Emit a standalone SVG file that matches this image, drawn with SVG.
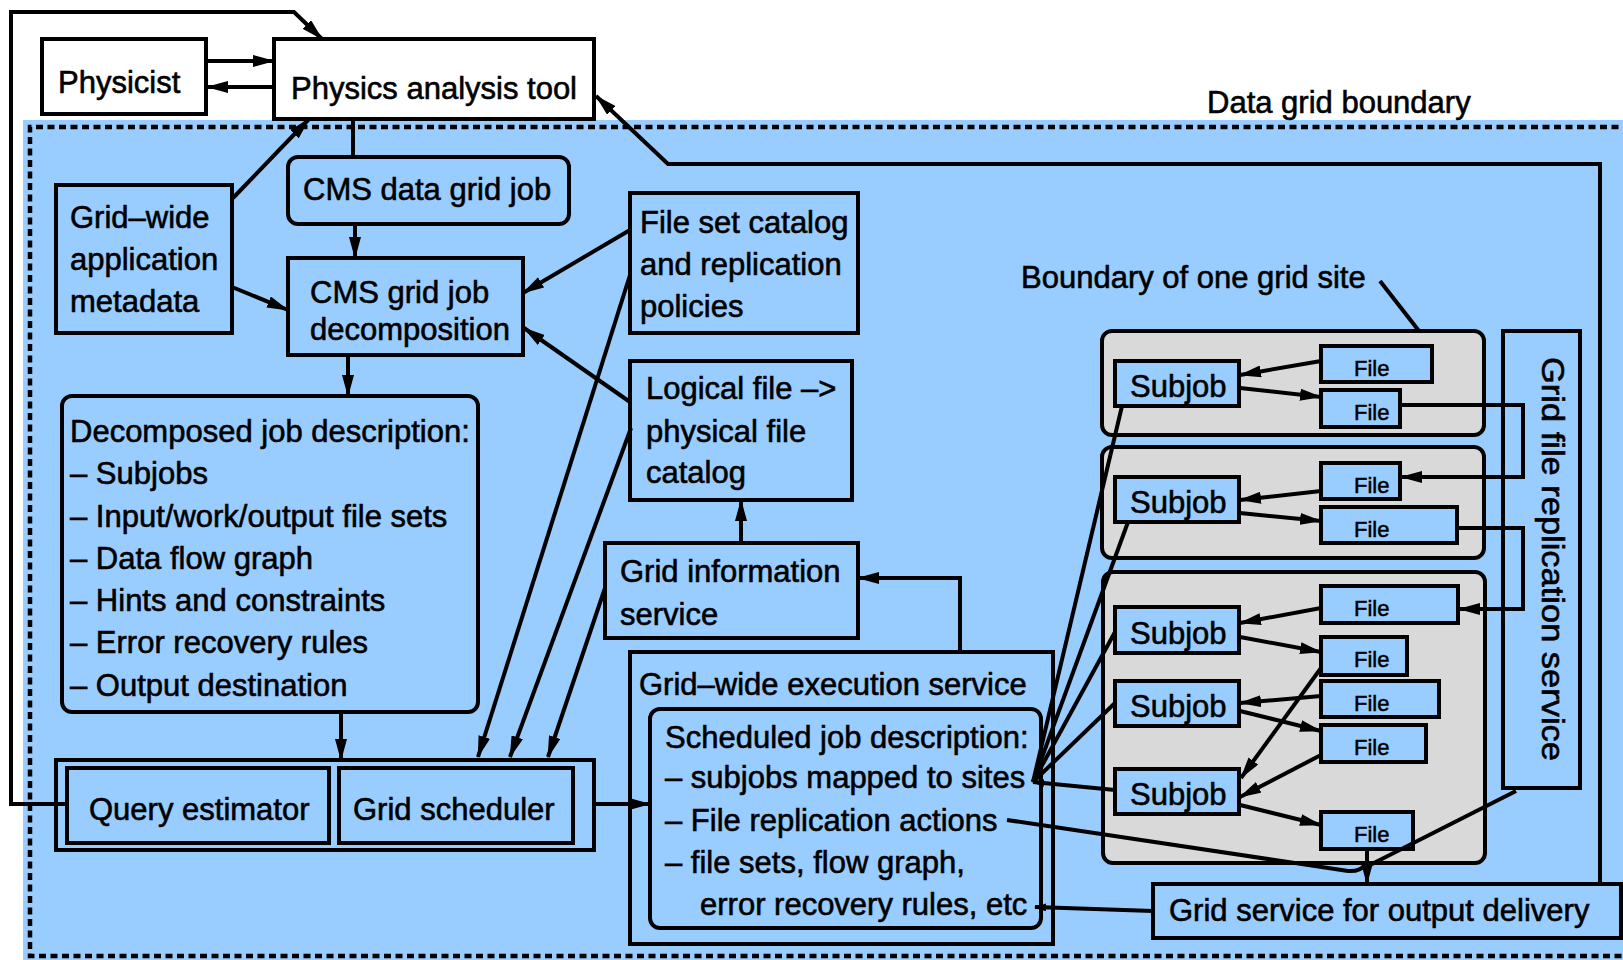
<svg xmlns="http://www.w3.org/2000/svg" width="1623" height="960" viewBox="0 0 1623 960">
  <defs>
    <marker id="ah" viewBox="0 0 22 12" refX="21" refY="6" markerWidth="22" markerHeight="12" markerUnits="userSpaceOnUse" orient="auto">
      <path d="M0,0 L22,6 L0,12 z" fill="#000"/>
    </marker>
    <marker id="ahs" viewBox="0 0 12 8" refX="11" refY="4" markerWidth="12" markerHeight="8" markerUnits="userSpaceOnUse" orient="auto">
      <path d="M0,0 L12,4 L0,8 z" fill="#000"/>
    </marker>
  </defs>
  <style>
    text { font-family: "Liberation Sans", Arial, Helvetica, sans-serif; font-size: 31px; fill: #000; stroke: #000; stroke-width: 0.6px; }
    .box { fill: #99CCFF; stroke: #000; stroke-width: 4; }
    .wbox { fill: #FFFFFF; stroke: #000; stroke-width: 4; }
    .site { fill: #D9D9D9; stroke: #000; stroke-width: 4; }
    .ln { fill: none; stroke: #000; stroke-width: 4; }
    .arr { marker-end: url(#ah); }
    .sm { marker-end: url(#ahs); }
    .ft { font-size: 22px; stroke-width: 0.5px; }
  </style>

  <!-- page and data grid area -->
  <rect x="0" y="0" width="1623" height="960" fill="#FFFFFF"/>
  <rect x="23" y="120" width="1600" height="840" fill="#99CCFF"/>
  <path d="M1630,127 H30 V956 H1630" fill="none" stroke="#000" stroke-width="4.5" stroke-dasharray="7 4.5"/>
  <text x="1207" y="113">Data grid boundary</text>
  <text x="1021" y="288">Boundary of one grid site</text>

  <!-- grid sites -->
  <g id="site1"><rect class="site" x="1102" y="331" width="382" height="104" rx="10"/></g>
  <g id="site2"><rect class="site" x="1102" y="447" width="382" height="111" rx="10"/></g>
  <g id="site3"><rect class="site" x="1103" y="572" width="382" height="291" rx="10"/></g>

  <!-- nodes -->
  <g id="physicist">
    <rect class="wbox" x="42" y="39" width="164" height="75"/>
    <text x="58" y="93">Physicist</text>
  </g>
  <g id="analysis-tool">
    <rect class="wbox" x="274" y="39" width="320" height="80"/>
    <text x="291" y="99">Physics analysis tool</text>
  </g>
  <g id="app-metadata">
    <rect class="box" x="56" y="185" width="176" height="148"/>
    <text x="70" y="228">Grid–wide</text>
    <text x="70" y="270">application</text>
    <text x="70" y="312">metadata</text>
  </g>
  <g id="cms-job">
    <rect class="box" x="288" y="157" width="281" height="67" rx="10"/>
    <text x="303" y="200">CMS data grid job</text>
  </g>
  <g id="job-decomposition">
    <rect class="box" x="288" y="258" width="235" height="97"/>
    <text x="310" y="303">CMS grid job</text>
    <text x="310" y="340">decomposition</text>
  </g>
  <g id="decomposed-description">
    <rect class="box" x="62" y="396" width="416" height="316" rx="10"/>
    <text x="70" y="442">Decomposed job description:</text>
    <text x="70" y="484">– Subjobs</text>
    <text x="70" y="527">– Input/work/output file sets</text>
    <text x="70" y="569">– Data flow graph</text>
    <text x="70" y="611">– Hints and constraints</text>
    <text x="70" y="653">– Error recovery rules</text>
    <text x="70" y="696">– Output destination</text>
  </g>
  <g id="estimator-scheduler">
    <rect class="box" x="56" y="760" width="538" height="90"/>
    <rect class="box" x="67" y="768" width="262" height="75"/>
    <rect class="box" x="339" y="768" width="234" height="75"/>
    <text x="89" y="820">Query estimator</text>
    <text x="353" y="820">Grid scheduler</text>
  </g>
  <g id="file-set-catalog">
    <rect class="box" x="630" y="193" width="228" height="140"/>
    <text x="640" y="233">File set catalog</text>
    <text x="640" y="275">and replication</text>
    <text x="640" y="317">policies</text>
  </g>
  <g id="physical-file-catalog">
    <rect class="box" x="630" y="361" width="222" height="139"/>
    <text x="646" y="399">Logical file –&gt;</text>
    <text x="646" y="442">physical file</text>
    <text x="646" y="483">catalog</text>
  </g>
  <g id="grid-information">
    <rect class="box" x="605" y="543" width="253" height="95"/>
    <text x="620" y="582">Grid information</text>
    <text x="620" y="625">service</text>
  </g>
  <g id="execution-service">
    <rect class="box" x="630" y="652" width="423" height="292"/>
    <text x="639" y="695">Grid–wide execution service</text>
    <rect class="box" x="650" y="709" width="391" height="219" rx="10"/>
    <text x="665" y="748">Scheduled job description:</text>
    <text x="665" y="788">– subjobs mapped to sites</text>
    <text x="665" y="831">– File replication actions</text>
    <text x="665" y="873">– file sets, flow graph,</text>
    <text x="700" y="915">error recovery rules, etc</text>
  </g>
  <g id="output-delivery">
    <rect class="box" x="1153" y="884" width="468" height="54"/>
    <text x="1169" y="921">Grid service for output delivery</text>
  </g>
  <g id="replication-service">
    <rect class="box" x="1503" y="331" width="77" height="457"/>
    <text transform="translate(1542,357) rotate(90)" textLength="404" lengthAdjust="spacingAndGlyphs">Grid file replication service</text>
  </g>

  <g id="subjobs">
    <rect class="box" x="1115" y="361" width="124" height="45"/>
    <text x="1130" y="397">Subjob</text>
    <rect class="box" x="1115" y="477" width="124" height="45"/>
    <text x="1130" y="513">Subjob</text>
    <rect class="box" x="1115" y="607" width="124" height="46"/>
    <text x="1130" y="644">Subjob</text>
    <rect class="box" x="1115" y="681" width="124" height="45"/>
    <text x="1130" y="717">Subjob</text>
    <rect class="box" x="1115" y="769" width="124" height="45"/>
    <text x="1130" y="805">Subjob</text>
  </g>
  <g id="files">
    <rect class="box" x="1321" y="346" width="111" height="36"/>
    <text class="ft" x="1354" y="376">File</text>
    <rect class="box" x="1321" y="390" width="79" height="37"/>
    <text class="ft" x="1354" y="420">File</text>
    <rect class="box" x="1321" y="463" width="79" height="36"/>
    <text class="ft" x="1354" y="493">File</text>
    <rect class="box" x="1321" y="507" width="136" height="36"/>
    <text class="ft" x="1354" y="537">File</text>
    <rect class="box" x="1321" y="586" width="137" height="37"/>
    <text class="ft" x="1354" y="616">File</text>
    <rect class="box" x="1321" y="637" width="86" height="38"/>
    <text class="ft" x="1354" y="667">File</text>
    <rect class="box" x="1321" y="681" width="118" height="36"/>
    <text class="ft" x="1354" y="711">File</text>
    <rect class="box" x="1321" y="725" width="105" height="37"/>
    <text class="ft" x="1354" y="755">File</text>
    <rect class="box" x="1321" y="812" width="92" height="37"/>
    <text class="ft" x="1354" y="842">File</text>
  </g>

  <!-- connectors -->
  <g id="connectors">
    <path class="ln arr" d="M67,804 H11 V12 H294 L322,39"/>
    <path class="ln arr" d="M206,61 H274"/>
    <path class="ln arr" d="M274,87 H207"/>
    <path class="ln arr" d="M233,198 L309,119"/>
    <path class="ln arr" d="M232,287 L288,310"/>
    <path class="ln" d="M353,119 V157"/>
    <path class="ln arr" d="M355,224 V258"/>
    <path class="ln arr" d="M348,355 V396"/>
    <path class="ln arr" d="M341,712 V760"/>
    <path class="ln arr" d="M630,230 L523,293"/>
    <path class="ln arr" d="M630,402 L524,328"/>
    <path class="ln arr" d="M630,275 L478,757"/>
    <path class="ln arr" d="M631,428 L510,757"/>
    <path class="ln arr" d="M605,588 L548,757"/>
    <path class="ln arr" d="M741,543 V500"/>
    <path class="ln arr" d="M960,652 V578 H858"/>
    <path class="ln arr" d="M594,804 H650"/>
    <path class="ln arr" d="M1600,884 V164 H668 L596,96"/>
    <path class="ln" d="M1380,281 L1419,331"/>

    <!-- scheduled subjobs to sites -->
    <path class="ln" d="M1122,406 L1033,782"/>
    <path class="ln" d="M1128,522 L1033,782"/>
    <path class="ln" d="M1115,632 L1033,782"/>
    <path class="ln" d="M1115,703 L1033,782"/>
    <path class="ln sm" d="M1115,790 L1033,782"/>

    <!-- output delivery -->
    <path class="ln" d="M1007,820 L1348,871 Q1360,872 1366,864"/>
    <path class="ln" d="M1516,791 L1368,866"/>
    <path class="ln arr" d="M1367,849 V884"/>
    <path class="ln sm" d="M1153,911 L1035,907"/>

    <!-- inside the sites -->
    <path class="ln arr" d="M1321,361 L1240,375"/>
    <path class="ln arr" d="M1240,388 L1321,397"/>
    <path class="ln arr" d="M1321,491 L1240,500"/>
    <path class="ln arr" d="M1240,513 L1321,521"/>
    <path class="ln arr" d="M1321,608 L1240,623"/>
    <path class="ln arr" d="M1240,637 L1321,652"/>
    <path class="ln arr" d="M1321,696 L1240,703"/>
    <path class="ln arr" d="M1240,711 L1321,731"/>
    <path class="ln arr" d="M1321,668 L1241,778"/>
    <path class="ln arr" d="M1321,755 L1240,797"/>
    <path class="ln arr" d="M1240,805 L1321,825"/>

    <!-- replication between sites -->
    <path class="ln arr" d="M1400,405 H1523 V477 H1401"/>
    <path class="ln arr" d="M1458,528 H1523 V609 H1459"/>
  </g>
</svg>
